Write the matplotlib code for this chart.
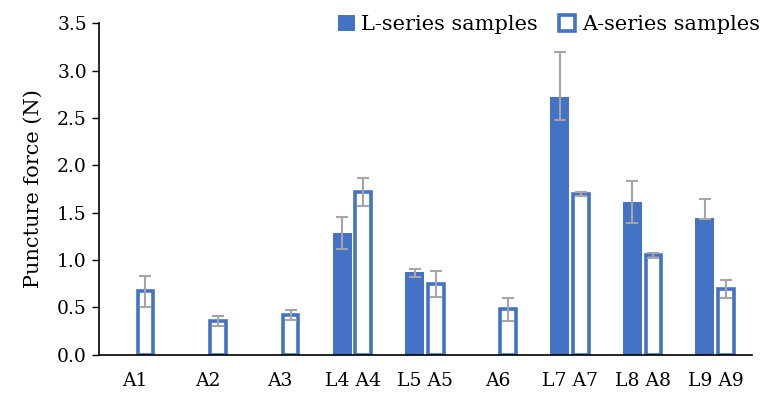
import numpy as np
import matplotlib.pyplot as plt

plt.rcParams['font.family'] = ['DejaVu Serif']

# Data
categories = ["A1", "A2", "A3", "L4 A4", "L5 A5", "A6", "L7 A7", "L8 A8", "L9 A9"]
l_means = [np.nan, np.nan, np.nan, 1.29, 0.87, np.nan, 2.72, 1.61, 1.44]
l_err_low = [0, 0, 0, 0.17, 0.05, 0, 0.24, 0.22, 0.01]
l_err_high = [0, 0, 0, 0.16, 0.04, 0, 0.48, 0.23, 0.20]
a_means = [0.67, 0.36, 0.42, 1.72, 0.75, 0.48, 1.70, 1.05, 0.70]
a_err = [0.165, 0.05, 0.055, 0.15, 0.14, 0.12, 0.02, 0.03, 0.095]

blue = '#4472C4'
grey = '#A5A5A5'

fig = plt.figure(figsize=(7.71, 3.93), dpi=100)
ax = fig.add_axes([0.128, 0.097, 0.847, 0.844])

x = np.arange(len(categories))
off = 0.145

l_means = np.array(l_means, dtype=float)
has_l = ~np.isnan(l_means)

ax.bar(x[has_l] - off, l_means[has_l], width=0.26, color=blue,
       label='L-series samples', zorder=2)
ax.bar(x + off, a_means, width=0.215, color='white', edgecolor=blue,
       linewidth=2.6, label='A-series samples', zorder=2)

ax.errorbar(x[has_l] - off, l_means[has_l],
            yerr=[np.array(l_err_low)[has_l], np.array(l_err_high)[has_l]],
            fmt='none', ecolor=grey, elinewidth=1.5, capsize=4.5, capthick=1.5, zorder=3)
ax.errorbar(x + off, a_means, yerr=a_err,
            fmt='none', ecolor=grey, elinewidth=1.5, capsize=4.5, capthick=1.5, zorder=3)

ax.set_xlim(-0.5, len(categories) - 0.5)
ax.set_ylim(0, 3.5)
ax.set_yticks(np.arange(0, 3.51, 0.5))
ax.set_yticklabels([f'{v:.1f}' for v in np.arange(0, 3.51, 0.5)])
ax.set_xticks(x)
ax.set_xticklabels(categories)
ax.tick_params(axis='x', length=0, pad=12, labelsize=13.5)
ax.tick_params(axis='y', length=5, width=1, labelsize=13.5)

for s in ['top', 'right']:
    ax.spines[s].set_visible(False)
ax.spines['left'].set_linewidth(1.2)
ax.spines['bottom'].set_linewidth(1.2)

ax.set_ylabel('Puncture force (N)', fontsize=15, labelpad=10)

ax.legend(loc='upper right', bbox_to_anchor=(1.025, 1.05), ncol=2, frameon=False,
          fontsize=15, handlelength=0.8, handleheight=0.8, handletextpad=0.3,
          columnspacing=1.0, borderaxespad=0)

fig.savefig('out.png', dpi=100)
